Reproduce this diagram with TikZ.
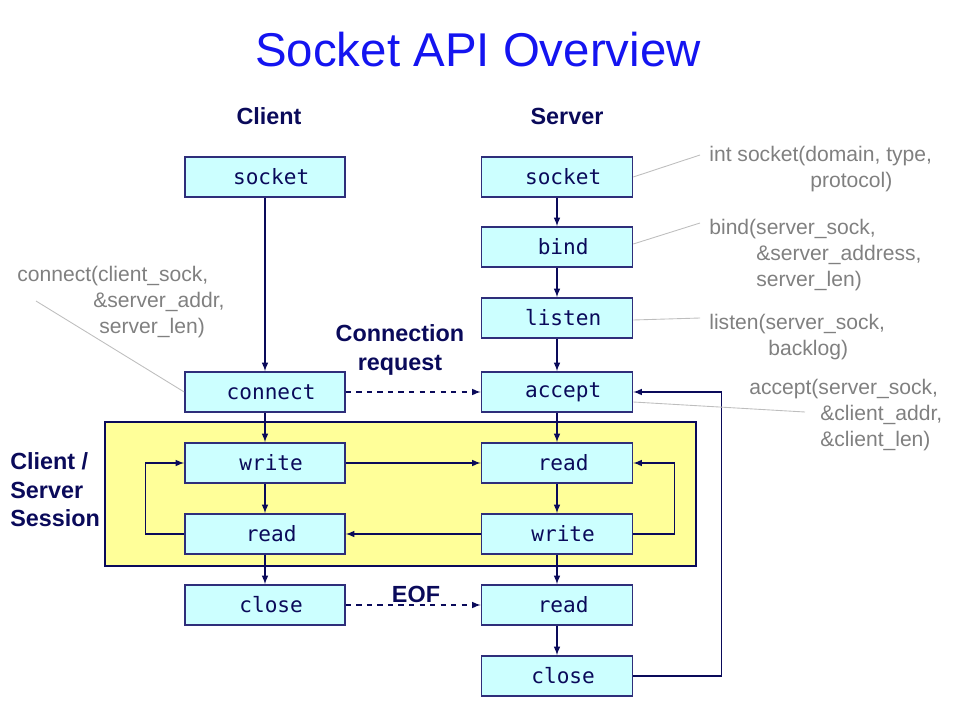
\documentclass[tikz,border=0pt]{standalone}
\usepackage{fontspec}
\setmainfont{Liberation Sans}
\setmonofont{DejaVu Sans Mono}
\usetikzlibrary{arrows}

\definecolor{boxfill}{RGB}{204,255,255}
\definecolor{boxline}{RGB}{46,46,122}
\definecolor{navy}{RGB}{10,10,90}
\definecolor{sessionfill}{RGB}{255,255,153}
\definecolor{titleblue}{RGB}{20,20,240}
\definecolor{notegray}{RGB}{128,128,128}
\definecolor{notewire}{RGB}{190,190,190}

\tikzset{
	call/.style={draw=boxline, fill=boxfill, line width=0.9pt, minimum height=0.8cm, text=navy, font=\fontsize{12}{14}\selectfont\ttfamily, execute at begin node={\hspace*{7pt}}},
	ccall/.style={call, minimum width=3.2cm},
	scall/.style={call, minimum width=3.02cm},
	flow/.style={-latex, draw=navy, line width=0.7pt},
	note/.style={text=notegray, align=left, anchor=north west, inner sep=0pt, font=\fontsize{12}{14.7}\selectfont},
	wire/.style={draw=notewire, line width=0.5pt},
	head/.style={text=navy, font=\fontsize{13.3}{16}\selectfont\bfseries}
}

\begin{document}
\begin{tikzpicture}[x=0.02cm, y=-0.02cm]
	\useasboundingbox (0,0) rectangle (957,720);
	\draw [fill=sessionfill, draw=navy, line width=0.9pt] (105,422) rectangle (696,566);

	\node [text=titleblue, font=\fontsize{27}{32}\selectfont] (title) at (478,50) {Socket API Overview};
	\node [head] (client) at (269,116) {Client};
	\node [head] (server) at (567,116) {Server};
	\node [head, align=center] (connreq) at (400,350) {Connection\\request};
	\node [head] (eof) at (416,594) {EOF};
	\node [head, align=left, anchor=west, inner sep=0pt, font=\fontsize{13.3}{16.3}\selectfont\bfseries] (session) at (10,490) {Client /\\Server\\Session};

	% client side
	\node [ccall] (csock) at (265,177) {socket};
	\node [ccall] (cconn) at (265,392) {connect};
	\node [ccall] (cwrite) at (265,463) {write};
	\node [ccall] (cread) at (265,534) {read};
	\node [ccall] (cclose) at (265,605) {close};

	% server side
	\node [scall] (ssock) at (557,177) {socket};
	\node [scall] (sbind) at (557,247) {bind};
	\node [scall] (slisten) at (557,318) {listen};
	\node [scall] (sacc) at (557,392) {accept};
	\node [scall] (sread) at (557,463) {read};
	\node [scall] (swrite) at (557,534) {write};
	\node [scall] (sreadeof) at (557,605) {read};
	\node [scall] (sclose) at (557,676) {close};

	\draw [flow] (csock) -- (cconn);
	\draw [flow] (cconn) -- (cwrite);
	\draw [flow] (cwrite) -- (cread);
	\draw [flow] (cread) -- (cclose);
	\draw [flow] (ssock) -- (sbind);
	\draw [flow] (sbind) -- (slisten);
	\draw [flow] (slisten) -- (sacc);
	\draw [flow] (sacc) -- (sread);
	\draw [flow] (sread) -- (swrite);
	\draw [flow] (swrite) -- (sreadeof);
	\draw [flow] (sreadeof) -- (sclose);
	\draw [flow] (cwrite) -- (sread);
	\draw [flow] (swrite) -- (cread);
	\draw [flow, dashed] (cconn) -- (sacc);
	\draw [flow, dashed] (cclose) -- (sreadeof);
	\draw [flow] (cread.west) -- ++(-39,0) |- (cwrite.west);
	\draw [flow] (swrite.east) -- ++(41,0) |- (sread.east);
	\draw [flow] (sclose.east) -- ++(88,0) |- (sacc.east);

	% notes
	\node [note] (socknote) at (709,146) {int socket(domain, type,\\\hspace*{2.02cm}protocol)};
	\node [note] (bindnote) at (709,219) {bind(server\_sock,\\\hspace*{0.94cm}\&server\_address,\\\hspace*{0.94cm}server\_len)};
	\node [note] (listennote) at (709,314) {listen(server\_sock,\\\hspace*{1.18cm}backlog)};
	\node [note] (accnote) at (749,379) {accept(server\_sock,\\\hspace*{1.42cm}\&client\_addr,\\\hspace*{1.42cm}\&client\_len)};
	\node [note] (connnote) at (17,266) {connect(client\_sock,\\\hspace*{1.52cm}\&server\_addr,\\\hspace*{1.64cm}server\_len)};

	\coordinate (sockend) at (700,155);
	\coordinate (bindend) at (700,223);
	\coordinate (listenend) at (700,318);
	\coordinate (accend) at (805,412);
	\coordinate (connend) at (36,301);
	\draw [wire] (ssock.east) -- (sockend);
	\draw [wire] (sbind.east) ++(0,-3) -- (bindend);
	\draw [wire] (slisten.east) ++(0,2) -- (listenend);
	\draw [wire] (sacc.east) ++(0,10) -- (accend);
	\draw [wire] (connend) -- (cconn.west);
\end{tikzpicture}
\end{document}
